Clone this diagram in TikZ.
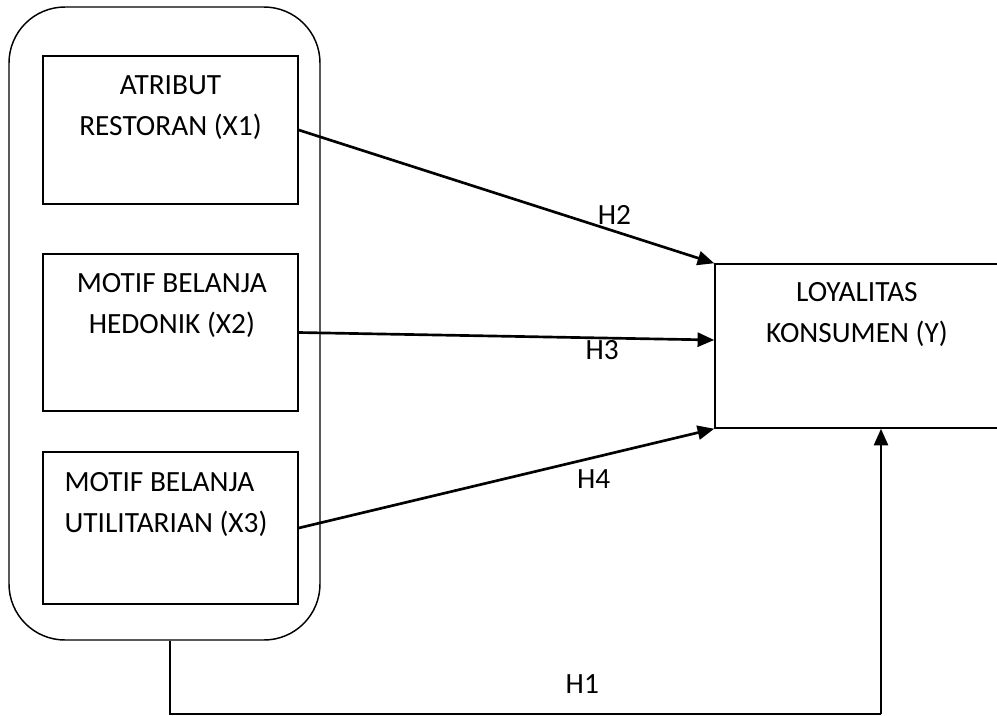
\documentclass[tikz,border=0pt]{standalone}
\usepackage{fontspec}
\setmainfont{Carlito}
\usetikzlibrary{arrows.meta,positioning}

\def\px{0.75pt}
\tikzset{
  xbox/.style={draw,line width=1.1pt,minimum width=255*\px,inner sep=0pt},
  txt/.style={inner sep=0pt,align=center,font=\fontsize{22}{30.75}\selectfont},
  lbl/.style={inner sep=0pt,font=\fontsize{22}{26}\selectfont},
  hyp/.style={line width=2pt,-{Triangle[length=12.5pt,width=10.5pt]}},
}

\begin{document}
\begin{tikzpicture}[x=0.75pt,y=-0.75pt]
\useasboundingbox (0,0) rectangle (997,715);
\clip (0,0) rectangle (997,715);

% outer group of the independent variables
\node[draw,line width=1.1pt,rounded corners=42pt,minimum width=311*\px,
      minimum height=633*\px,inner sep=0pt] (grp) at (164.5,323.5) {};

\foreach \i/\yc/\h in {1/130/148,2/332.5/157,3/528/152}
  \node[xbox,minimum height=\h*\px] (b\i) at (170.5,\yc) {};

\node[txt,below=15pt of b1.north] (t1) {ATRIBUT\\RESTORAN (X1)};
\node[txt,below=15pt of b2.north,xshift=1pt] (t2) {MOTIF BELANJA\\HEDONIK (X2)};
\node[txt,align=left,below right=15.5pt and 16.5pt of b3.north west] (t3) {MOTIF BELANJA\\UTILITARIAN (X3)};

% dependent variable
\node[draw,line width=1.1pt,minimum width=332*\px,minimum height=164*\px,
      inner sep=0pt] (y) at (881,346) {};
\node[txt,anchor=north] (ty) at ([xshift=107pt,yshift=-14pt]y.north west) {LOYALITAS\\KONSUMEN (Y)};

\coordinate (c1) at (881,714);

\draw[hyp] (b1.east) -- node[lbl,pos=0.76,above=4pt] (h2) {H2} (y.north west);
\draw[hyp] (b2.east) -- node[lbl,pos=0.73,below=0.5pt] (h3) {H3} ([yshift=4.5pt]y.west);
\draw[hyp] (b3.east) -- node[lbl,pos=0.71,below=8pt] (h4) {H4} (y.south west);

\draw[line width=1.1pt] ([xshift=4pt]grp.south) -- ([xshift=4pt]grp.south |- c1)
  -- node[lbl,pos=0.58,above=15pt] (h1) {H1} (c1);
\draw[hyp] (c1) -- (y.south);

\end{tikzpicture}
\end{document}
